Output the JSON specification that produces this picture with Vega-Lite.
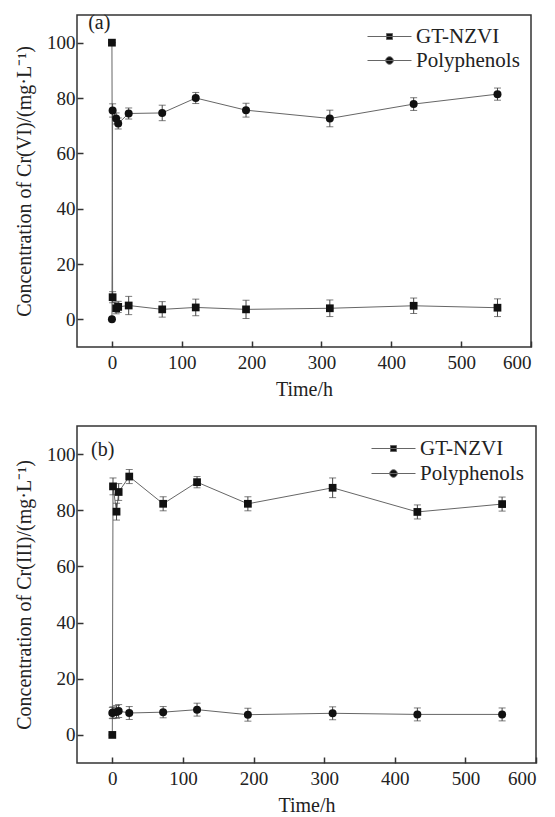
{
  "$schema": "https://vega.github.io/schema/vega-lite/v6.json",
  "padding": {"left": 13, "top": 12, "right": 2, "bottom": 0},
  "spacing": 25,
  "resolve": {"scale": {"stroke": "independent"}, "legend": {"stroke": "independent"}},
  "datasets": {
    "d": [
      {"panel": "a", "series": "GT-NZVI", "t": 0, "c": 100, "err": 0},
      {"panel": "a", "series": "GT-NZVI", "t": 1, "c": 8, "err": 2},
      {"panel": "a", "series": "GT-NZVI", "t": 6, "c": 4, "err": 2},
      {"panel": "a", "series": "GT-NZVI", "t": 9, "c": 4.5, "err": 2},
      {"panel": "a", "series": "GT-NZVI", "t": 24, "c": 5, "err": 3.3},
      {"panel": "a", "series": "GT-NZVI", "t": 72, "c": 3.6, "err": 2.8},
      {"panel": "a", "series": "GT-NZVI", "t": 120, "c": 4.3, "err": 3},
      {"panel": "a", "series": "GT-NZVI", "t": 192, "c": 3.6, "err": 3.3},
      {"panel": "a", "series": "GT-NZVI", "t": 312, "c": 4, "err": 3},
      {"panel": "a", "series": "GT-NZVI", "t": 432, "c": 4.9, "err": 2.8},
      {"panel": "a", "series": "GT-NZVI", "t": 552, "c": 4.2, "err": 3.2},
      {"panel": "a", "series": "Polyphenols", "t": 0, "c": 0, "err": 0},
      {"panel": "a", "series": "Polyphenols", "t": 1, "c": 75.5, "err": 2.4},
      {"panel": "a", "series": "Polyphenols", "t": 6, "c": 72.6, "err": 2},
      {"panel": "a", "series": "Polyphenols", "t": 9, "c": 70.8, "err": 2},
      {"panel": "a", "series": "Polyphenols", "t": 24, "c": 74.4, "err": 2},
      {"panel": "a", "series": "Polyphenols", "t": 72, "c": 74.6, "err": 2.8},
      {"panel": "a", "series": "Polyphenols", "t": 120, "c": 80, "err": 2},
      {"panel": "a", "series": "Polyphenols", "t": 192, "c": 75.6, "err": 2.5},
      {"panel": "a", "series": "Polyphenols", "t": 312, "c": 72.6, "err": 3},
      {"panel": "a", "series": "Polyphenols", "t": 432, "c": 77.8, "err": 2.3},
      {"panel": "a", "series": "Polyphenols", "t": 552, "c": 81.4, "err": 2.2},
      {"panel": "b", "series": "GT-NZVI", "t": 0, "c": 0, "err": 0},
      {"panel": "b", "series": "GT-NZVI", "t": 1, "c": 88.5, "err": 3},
      {"panel": "b", "series": "GT-NZVI", "t": 6, "c": 79.5, "err": 3},
      {"panel": "b", "series": "GT-NZVI", "t": 9, "c": 86.5, "err": 3},
      {"panel": "b", "series": "GT-NZVI", "t": 24, "c": 92, "err": 2.5},
      {"panel": "b", "series": "GT-NZVI", "t": 72, "c": 82.3, "err": 2.5},
      {"panel": "b", "series": "GT-NZVI", "t": 120, "c": 90, "err": 2},
      {"panel": "b", "series": "GT-NZVI", "t": 192, "c": 82.3, "err": 2.5},
      {"panel": "b", "series": "GT-NZVI", "t": 312, "c": 88, "err": 3.5},
      {"panel": "b", "series": "GT-NZVI", "t": 432, "c": 79.4, "err": 2.5},
      {"panel": "b", "series": "GT-NZVI", "t": 552, "c": 82.2, "err": 2.5},
      {"panel": "b", "series": "Polyphenols", "t": 0, "c": 7.8, "err": 2},
      {"panel": "b", "series": "Polyphenols", "t": 1, "c": 8, "err": 2},
      {"panel": "b", "series": "Polyphenols", "t": 6, "c": 8.2, "err": 2.3},
      {"panel": "b", "series": "Polyphenols", "t": 9, "c": 8.5, "err": 2.3},
      {"panel": "b", "series": "Polyphenols", "t": 24, "c": 7.8, "err": 2.3},
      {"panel": "b", "series": "Polyphenols", "t": 72, "c": 8.1, "err": 2},
      {"panel": "b", "series": "Polyphenols", "t": 120, "c": 9, "err": 2.3},
      {"panel": "b", "series": "Polyphenols", "t": 192, "c": 7.2, "err": 2.3},
      {"panel": "b", "series": "Polyphenols", "t": 312, "c": 7.7, "err": 2.3},
      {"panel": "b", "series": "Polyphenols", "t": 432, "c": 7.3, "err": 2.3},
      {"panel": "b", "series": "Polyphenols", "t": 552, "c": 7.3, "err": 2.3}
    ]
  },
  "vconcat": [
    {
      "width": 454,
      "height": 332,
      "data": {"name": "d"},
      "transform": [{"filter": "datum.panel === 'a'"}],
      "encoding": {
        "x": {"field": "t", "type": "quantitative", "scale": {"domain": [-50, 600], "nice": false, "zero": false}, "axis": {"values": [0, 100, 200, 300, 400, 500, 600], "title": "Time/h"}},
        "y": {"field": "c", "type": "quantitative", "scale": {"domain": [-10, 110], "nice": false, "zero": false}, "axis": {"values": [0, 20, 40, 60, 80, 100], "title": "Concentration of Cr(VI)/(mg·L⁻¹)"}}
      },
      "layer": [
        {
          "mark": {"type": "line", "strokeWidth": 1},
          "encoding": {
            "stroke": {"field": "series", "type": "nominal", "scale": {"domain": ["GT-NZVI", "Polyphenols"], "range": ["#666666", "#666666"]},
              "legend": {"title": null, "orient": "top-right", "offset": 11, "padding": 0, "symbolSize": 400, "symbolStrokeWidth": 1, "labelFont": "Liberation Serif", "labelFontSize": 21, "labelColor": "#222222", "labelOffset": 16, "rowPadding": 2,
                "encode": {"symbols": {"update": {"shape": {"signal": "datum.value === 'GT-NZVI' ? 'M-2.2,0H2.2M-0.3,-0.3H0.3V0.3H-0.3Z' : 'M-2.2,0H2.2M0.38,0A0.38,0.38,0,1,1,-0.38,0A0.38,0.38,0,1,1,0.38,0Z'"}, "fill": {"value": "#111111"}, "stroke": {"value": "#555555"}}}}}},
            "order": {"field": "t"}
          }
        },
        {
          "mark": {"type": "errorbar", "ticks": {"size": 7}, "color": "#444444", "thickness": 1},
          "encoding": {"yError": {"field": "err"}, "detail": {"field": "series"}}
        },
        {
          "transform": [{"filter": "datum.series === 'GT-NZVI'"}],
          "mark": {"type": "point", "shape": "square", "filled": true, "size": 60, "opacity": 1, "color": "#111111"}
        },
        {
          "transform": [{"filter": "datum.series === 'Polyphenols'"}],
          "mark": {"type": "point", "shape": "circle", "filled": true, "size": 64, "opacity": 1, "color": "#111111"}
        },
        {
          "data": {"values": [{"label": "(a)", "lx": -34, "ly": 107}]},
          "mark": {"type": "text", "font": "Liberation Serif", "fontSize": 20, "align": "left", "baseline": "middle", "color": "#222222"},
          "encoding": {"text": {"field": "label"}, "x": {"field": "lx", "type": "quantitative"}, "y": {"field": "ly", "type": "quantitative"}}
        }
      ]
    },
    {
      "width": 459,
      "height": 337,
      "data": {"name": "d"},
      "transform": [{"filter": "datum.panel === 'b'"}],
      "encoding": {
        "x": {"field": "t", "type": "quantitative", "scale": {"domain": [-50, 600], "nice": false, "zero": false}, "axis": {"values": [0, 100, 200, 300, 400, 500, 600], "title": "Time/h"}},
        "y": {"field": "c", "type": "quantitative", "scale": {"domain": [-10, 110], "nice": false, "zero": false}, "axis": {"values": [0, 20, 40, 60, 80, 100], "title": "Concentration of Cr(III)/(mg·L⁻¹)"}}
      },
      "layer": [
        {
          "mark": {"type": "line", "strokeWidth": 1},
          "encoding": {
            "stroke": {"field": "series", "type": "nominal", "scale": {"domain": ["GT-NZVI", "Polyphenols"], "range": ["#666666", "#666666"]},
              "legend": {"title": null, "orient": "top-right", "offset": 12, "padding": 0, "symbolSize": 400, "symbolStrokeWidth": 1, "labelFont": "Liberation Serif", "labelFontSize": 21, "labelColor": "#222222", "labelOffset": 16, "rowPadding": 3,
                "encode": {"symbols": {"update": {"shape": {"signal": "datum.value === 'GT-NZVI' ? 'M-2.2,0H2.2M-0.3,-0.3H0.3V0.3H-0.3Z' : 'M-2.2,0H2.2M0.38,0A0.38,0.38,0,1,1,-0.38,0A0.38,0.38,0,1,1,0.38,0Z'"}, "fill": {"value": "#111111"}, "stroke": {"value": "#555555"}}}}}},
            "order": {"field": "t"}
          }
        },
        {
          "mark": {"type": "errorbar", "ticks": {"size": 7}, "color": "#444444", "thickness": 1},
          "encoding": {"yError": {"field": "err"}, "detail": {"field": "series"}}
        },
        {
          "transform": [{"filter": "datum.series === 'GT-NZVI'"}],
          "mark": {"type": "point", "shape": "square", "filled": true, "size": 60, "opacity": 1, "color": "#111111"}
        },
        {
          "transform": [{"filter": "datum.series === 'Polyphenols'"}],
          "mark": {"type": "point", "shape": "circle", "filled": true, "size": 64, "opacity": 1, "color": "#111111"}
        },
        {
          "data": {"values": [{"label": "(b)", "lx": -30, "ly": 101.5}]},
          "mark": {"type": "text", "font": "Liberation Serif", "fontSize": 20, "align": "left", "baseline": "middle", "color": "#222222"},
          "encoding": {"text": {"field": "label"}, "x": {"field": "lx", "type": "quantitative"}, "y": {"field": "ly", "type": "quantitative"}}
        }
      ]
    }
  ],
  "config": {
    "view": {"stroke": "#333333", "strokeWidth": 1.5},
    "axis": {"domain": false, "grid": false, "tickSize": -6, "tickColor": "#333333", "tickWidth": 1.5, "labelFont": "Liberation Serif", "labelFontSize": 19, "labelColor": "#222222", "titleFont": "Liberation Serif", "titleFontSize": 20, "titleFontWeight": "normal", "titleColor": "#222222", "labelPadding": 8, "titlePadding": 6},
    "axisX": {"labelPadding": 12, "titlePadding": 7},
    "axisY": {"titlePadding": 12}
  }
}
